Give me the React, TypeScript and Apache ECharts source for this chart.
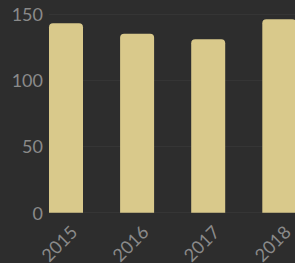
import React, { useEffect, useRef } from "react";
import * as echarts from "echarts";

const categories = ["2015", "2016", "2017", "2018"];
const values = [143, 135, 131, 146];
const yTicks = [0, 50, 100, 150];

const BG = "#2d2d2d";
const BAR = "#d9c98b";
const LABEL = "#8a8a8a";
const FONT = "Lato";

export default function App() {
  const ref = useRef<HTMLDivElement>(null);
  useEffect(() => {
    if (!ref.current) return;
    const chart = echarts.init(ref.current, undefined, { renderer: "svg" });
    const yMax = yTicks[yTicks.length - 1];
    const yInterval = yTicks[1] - yTicks[0];
    chart.setOption({
      animation: false,
      backgroundColor: BG,
      grid: [
        {
          left: 30.45,
          top: 14,
          width: 284.4,
          height: 198.7,
          containLabel: false,
          outerBoundsMode: "none",
        },
        {
          left: 49,
          top: 14,
          width: 300,
          height: 198.7,
          containLabel: false,
          outerBoundsMode: "none",
        },
      ],
      xAxis: [
        {
          type: "category",
          gridIndex: 0,
          data: categories,
          axisLine: { show: false },
          axisTick: { show: false },
          splitLine: { show: false },
          axisLabel: {
            interval: 0,
            rotate: 45,
            align: "right",
            verticalAlign: "top",
            lineHeight: 22,
            margin: 8,
            color: LABEL,
            fontSize: 18,
            fontFamily: FONT,
          },
        },
        {
          type: "value",
          gridIndex: 1,
          min: 0,
          max: 1,
          show: false,
        },
      ],
      yAxis: [
        {
          type: "value",
          gridIndex: 0,
          min: 0,
          max: yMax,
          interval: yInterval,
          show: false,
        },
        {
          type: "value",
          gridIndex: 1,
          min: 0,
          max: yMax,
          interval: yInterval,
          axisLine: { show: false },
          axisTick: { show: false },
          splitLine: { show: true, lineStyle: { color: "#353535", width: 1 } },
          axisLabel: {
            margin: 6,
            padding: [4, 0, 0, 0],
            color: LABEL,
            fontSize: 18,
            fontFamily: FONT,
          },
        },
      ],
      series: [
        {
          type: "bar",
          xAxisIndex: 0,
          yAxisIndex: 0,
          data: values,
          barWidth: 34,
          itemStyle: { color: BAR, borderRadius: [4, 4, 0, 0] },
        },
        {
          type: "line",
          xAxisIndex: 1,
          yAxisIndex: 1,
          data: [],
        },
      ],
    });
    return () => chart.dispose();
  }, []);
  return (
    <div
      style={{
        position: "fixed",
        left: 0,
        top: 0,
        width: 295,
        height: 263,
        overflow: "hidden",
        background: BG,
      }}
    >
      <div ref={ref} style={{ width: 340, height: 263 }} />
    </div>
  );
}
